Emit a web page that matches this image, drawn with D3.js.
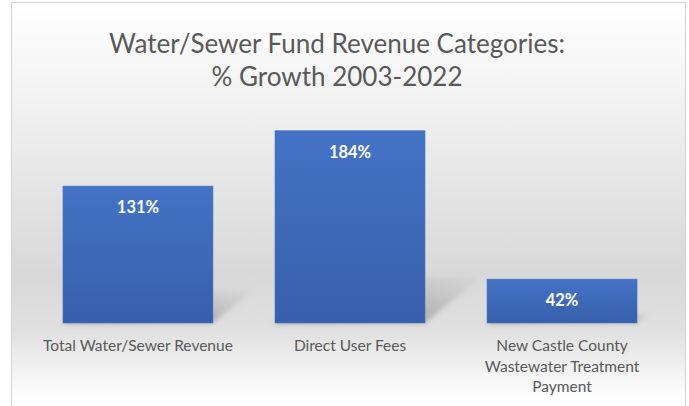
<!DOCTYPE html>
<html><head><meta charset="utf-8">
<script src="https://cdn.jsdelivr.net/npm/d3@7"></script>
<style>
html,body{margin:0;padding:0;background:#fff;}
svg{display:block;font-family:Lato,"Open Sans",sans-serif;}
</style></head>
<body>
<svg id="chart" width="689" height="406"></svg>
<script>
const categories = ["Total Water/Sewer Revenue", "Direct User Fees", "New Castle County Wastewater Treatment Payment"];
const categoryLines = [["Total Water/Sewer Revenue"], ["Direct User Fees"], ["New Castle County", "Wastewater Treatment", "Payment"]];
const growthPct = [131, 184, 42];
const valueLabels = ["131%", "184%", "42%"];
const titleLines = ["Water/Sewer Fund Revenue Categories:", "% Growth 2003-2022"];

const svg = d3.select("#chart");
const defs = svg.append("defs");

const bg = defs.append("linearGradient").attr("id","bgGrad").attr("x1",0).attr("y1",0).attr("x2",0).attr("y2",1);
[[0,"#ffffff"],[0.25,"#f1f1f1"],[0.66,"#d8d8d8"],[0.8,"#e0e0e0"],[0.97,"#ffffff"]].forEach(s=>bg.append("stop").attr("offset",s[0]).attr("stop-color",s[1]));

const barGrad = defs.append("linearGradient").attr("id","barGrad").attr("x1",0).attr("y1",0).attr("x2",0).attr("y2",1);
barGrad.append("stop").attr("offset",0).attr("stop-color","#4472c5");
barGrad.append("stop").attr("offset",1).attr("stop-color","#3760ab");

const shGrad = defs.append("linearGradient").attr("id","shGrad").attr("x1",0).attr("y1",1).attr("x2",1).attr("y2",0);
shGrad.append("stop").attr("offset",0).attr("stop-color","#6e6e6e").attr("stop-opacity",0.8);
shGrad.append("stop").attr("offset",1).attr("stop-color","#999").attr("stop-opacity",0.05);

const blur = defs.append("filter").attr("id","blur").attr("x","-50%").attr("y","-50%").attr("width","200%").attr("height","200%");
blur.append("feGaussianBlur").attr("stdDeviation",2.5);

// chart area background + border
svg.append("rect").attr("x",11.5).attr("y",2.5).attr("width",674).attr("height",410)
  .attr("fill","url(#bgGrad)").attr("stroke","#d4d4d4").attr("stroke-width",1);

// title
const title = svg.append("text").attr("text-anchor","middle").attr("fill","#595959")
  .style("font-size","26px").style("font-weight",400);
titleLines.forEach((t,i)=>title.append("tspan").attr("x",337).attr("y",53 + i*33).text(t));

const x = d3.scaleBand().domain(categories).range([32, 668]).paddingInner(0.2925).paddingOuter(0.146);
const y = d3.scaleLinear().domain([0, 200]).range([323, 114]);

const data = categories.map((c,i)=>({cat:c, v:growthPct[i], label:valueLabels[i], lines:categoryLines[i]}));

// shadows
svg.append("g").selectAll("path").data(data).join("path")
  .attr("d", d=>{
    const L = x(d.cat), R = L + x.bandwidth(), B = y(0), h = y(0) - y(d.v);
    const dx = 0.29*h, dy = 0.24*h;
    return `M${L},${B} L${R},${B} L${R+dx},${B-dy} L${L+dx},${B-dy} Z`;
  })
  .attr("fill","url(#shGrad)").attr("filter","url(#blur)");

// bars
svg.append("g").selectAll("rect").data(data).join("rect")
  .attr("x", d=>x(d.cat)).attr("width", x.bandwidth())
  .attr("y", d=>y(d.v)).attr("height", d=>y(0)-y(d.v))
  .attr("fill","url(#barGrad)").attr("stroke","#4a78c8").attr("stroke-width",0.6);

// value labels
svg.append("g").selectAll("text").data(data).join("text")
  .attr("x", d=>x(d.cat)+x.bandwidth()/2).attr("y", d=>y(d.v)+27)
  .attr("text-anchor","middle").attr("fill","#ffffff")
  .style("font-size","16.5px").style("font-weight",700)
  .text(d=>d.label);

// category axis
const axis = svg.append("g").attr("transform",`translate(0,${y(0)})`)
  .call(d3.axisBottom(x).tickSize(0).tickPadding(0));
axis.select(".domain").remove();
axis.selectAll(".tick text").each(function(c){
  const i = categories.indexOf(c);
  const t = d3.select(this).text(null).attr("y",null).attr("dy",null)
    .attr("fill","#595959").style("font-size","15.5px").style("font-family","Lato, sans-serif");
  categoryLines[i].forEach((ln,j)=>t.append("tspan").attr("x",0).attr("y",28 + j*20.5).text(ln));
});
</script>
</body></html>
